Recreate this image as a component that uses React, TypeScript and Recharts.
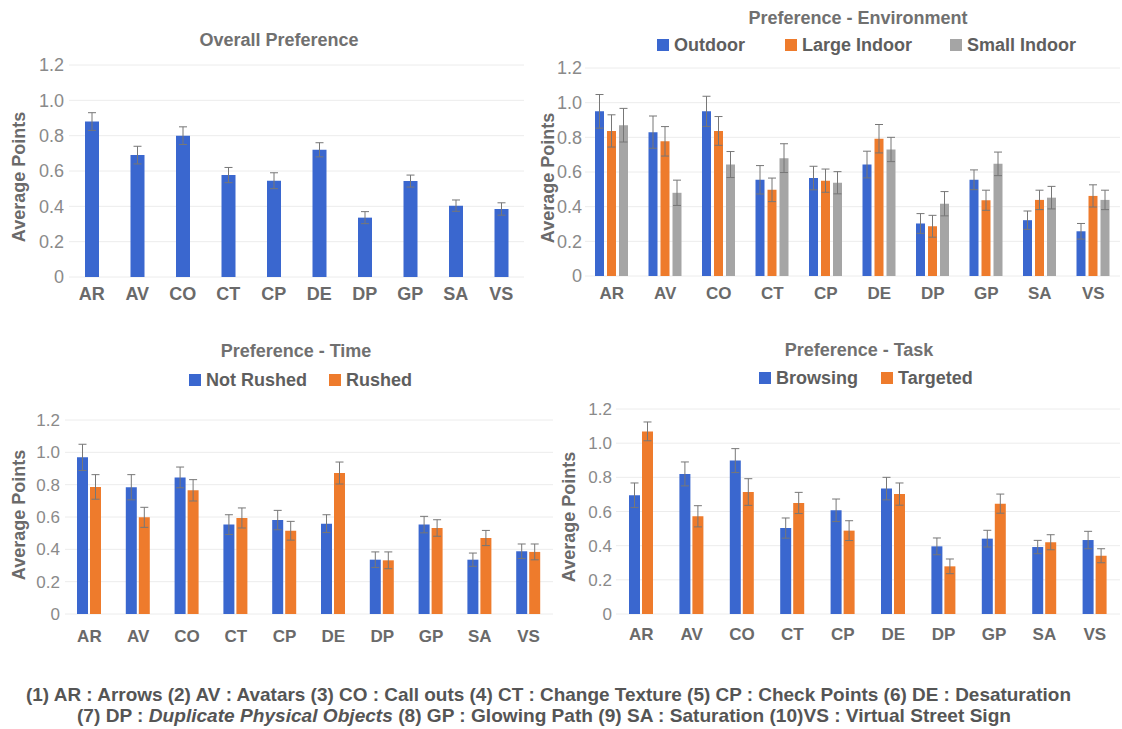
import React from 'react';
import { BarChart, Bar, XAxis, YAxis, CartesianGrid, ErrorBar } from 'recharts';

const categories = ['AR', 'AV', 'CO', 'CT', 'CP', 'DE', 'DP', 'GP', 'SA', 'VS'];
const yTicks = [0, 0.2, 0.4, 0.6, 0.8, 1.0, 1.2];

// Overall preference
const overallValues = [0.88, 0.69, 0.8, 0.577, 0.545, 0.72, 0.336, 0.543, 0.404, 0.385];
const overallErrors = [0.05, 0.05, 0.05, 0.043, 0.045, 0.04, 0.034, 0.034, 0.032, 0.035];

// Preference - Environment
const outdoorValues = [0.95, 0.83, 0.95, 0.555, 0.565, 0.643, 0.303, 0.555, 0.322, 0.258];
const outdoorErrors = [0.097, 0.093, 0.087, 0.082, 0.068, 0.077, 0.057, 0.057, 0.053, 0.045];
const largeIndoorValues = [0.837, 0.777, 0.837, 0.497, 0.55, 0.792, 0.287, 0.437, 0.439, 0.462];
const largeIndoorErrors = [0.093, 0.085, 0.083, 0.068, 0.067, 0.082, 0.063, 0.058, 0.056, 0.064];
const smallIndoorValues = [0.87, 0.48, 0.643, 0.68, 0.538, 0.73, 0.417, 0.647, 0.452, 0.439];
const smallIndoorErrors = [0.097, 0.073, 0.075, 0.083, 0.064, 0.07, 0.07, 0.068, 0.065, 0.056];

// Preference - Time
const notRushedValues = [0.969, 0.784, 0.845, 0.553, 0.581, 0.559, 0.336, 0.553, 0.336, 0.388];
const notRushedErrors = [0.081, 0.078, 0.064, 0.061, 0.06, 0.055, 0.048, 0.051, 0.041, 0.045];
const rushedValues = [0.786, 0.598, 0.765, 0.594, 0.515, 0.872, 0.332, 0.532, 0.47, 0.384];
const rushedErrors = [0.076, 0.062, 0.066, 0.062, 0.058, 0.068, 0.052, 0.051, 0.047, 0.049];

// Preference - Task
const browsingValues = [0.695, 0.82, 0.898, 0.503, 0.607, 0.734, 0.396, 0.441, 0.392, 0.433];
const browsingErrors = [0.072, 0.07, 0.07, 0.059, 0.066, 0.066, 0.049, 0.049, 0.039, 0.051];
const targetedValues = [1.069, 0.572, 0.714, 0.65, 0.488, 0.702, 0.279, 0.646, 0.42, 0.341];
const targetedErrors = [0.055, 0.062, 0.078, 0.062, 0.058, 0.065, 0.043, 0.056, 0.044, 0.041];

const BLUE = '#3a67cf';
const ORANGE = '#ee7b2c';
const GRAY = '#a5a5a5';
const FONT = '"Liberation Sans", Arial, Helvetica, sans-serif';
const NARROW = '"Liberation Sans Narrow", "Liberation Sans", Arial, sans-serif';

type Series = { name: string; values: number[]; errors: number[]; color: string };

function buildRows(series: Series[]) {
  return categories.map((c, i) => {
    const row: Record<string, any> = { cat: c };
    series.forEach((s, k) => {
      row['v' + k] = s.values[i];
      row['e' + k] = s.errors[i];
    });
    return row;
  });
}

const fmt = (v: number) => (v === 0 ? '0' : v.toFixed(1));

type PanelProps = {
  left: number; top: number; width: number; height: number;
  series: Series[];
  margin: { top: number; right: number; bottom: number; left: number };
  yAxisWidth: number; yTickMargin: number; xTickMargin: number;
  xFont: number; yFont: number; barSize: number; barGap: number;
};

function Panel(p: PanelProps) {
  const data = buildRows(p.series);
  return (
    <div style={{ position: 'absolute', left: p.left, top: p.top }}>
      <BarChart width={p.width} height={p.height} data={data} margin={p.margin} barGap={p.barGap}>
        <CartesianGrid vertical={false} stroke="#ececec" />
        <XAxis
          dataKey="cat"
          interval={0}
          axisLine={false}
          tickLine={false}
          tickSize={0}
          tickMargin={p.xTickMargin}
          height={30}
          tick={{ fontSize: p.xFont, fill: '#6a6a6a', fontFamily: FONT, fontWeight: 700 }}
        />
        <YAxis
          domain={[0, 1.2]}
          ticks={yTicks}
          tickFormatter={fmt}
          axisLine={false}
          tickLine={false}
          tickSize={0}
          tickMargin={p.yTickMargin}
          width={p.yAxisWidth}
          tick={{ fontSize: p.yFont, fill: '#8a8a8a', fontFamily: FONT }}
        />
        {p.series.map((s, k) => (
          <Bar key={s.name} dataKey={'v' + k} name={s.name} fill={s.color} barSize={p.barSize} isAnimationActive={false}>
            <ErrorBar dataKey={'e' + k} width={4} strokeWidth={1} stroke="#777" />
          </Bar>
        ))}
      </BarChart>
    </div>
  );
}

function Title({ text, cx, cy }: { text: string; cx: number; cy: number }) {
  return (
    <div style={{ position: 'absolute', left: cx - 250, top: cy - 12, width: 500, height: 24, lineHeight: '24px', textAlign: 'center', fontFamily: FONT, fontWeight: 700, fontSize: 18, color: '#707070' }}>
      {text}
    </div>
  );
}

function YTitle({ cx, cy }: { cx: number; cy: number }) {
  return (
    <div style={{ position: 'absolute', left: cx - 100, top: cy - 12, width: 200, height: 24, lineHeight: '24px', textAlign: 'center', fontFamily: FONT, fontWeight: 700, fontSize: 18, color: '#6a6a6a', transform: 'rotate(-90deg)' }}>
      Average Points
    </div>
  );
}

function LegendRow({ items, lefts, cy }: { items: Series[]; lefts: number[]; cy: number }) {
  return (
    <>
      {items.map((s, i) => (
        <div key={s.name} style={{ position: 'absolute', left: lefts[i], top: cy - 12, height: 24, display: 'flex', alignItems: 'center', fontFamily: FONT, fontWeight: 700, fontSize: 18, color: '#5e5e5e', whiteSpace: 'nowrap' }}>
          <span style={{ display: 'inline-block', width: 12, height: 12, background: s.color, marginRight: 5 }} />
          {s.name}
        </div>
      ))}
    </>
  );
}

const overallSeries: Series[] = [{ name: 'Overall', values: overallValues, errors: overallErrors, color: BLUE }];
const envSeries: Series[] = [
  { name: 'Outdoor', values: outdoorValues, errors: outdoorErrors, color: BLUE },
  { name: 'Large Indoor', values: largeIndoorValues, errors: largeIndoorErrors, color: ORANGE },
  { name: 'Small Indoor', values: smallIndoorValues, errors: smallIndoorErrors, color: GRAY },
];
const timeSeries: Series[] = [
  { name: 'Not Rushed', values: notRushedValues, errors: notRushedErrors, color: BLUE },
  { name: 'Rushed', values: rushedValues, errors: rushedErrors, color: ORANGE },
];
const taskSeries: Series[] = [
  { name: 'Browsing', values: browsingValues, errors: browsingErrors, color: BLUE },
  { name: 'Targeted', values: targetedValues, errors: targetedErrors, color: ORANGE },
];

export default function App() {
  return (
    <div style={{ position: 'absolute', left: 0, top: 0, width: 1122, height: 729, background: '#fff', overflow: 'hidden' }}>
      <Title text="Overall Preference" cx={279} cy={40} />
      <YTitle cx={19} cy={177} />
      <Panel left={0} top={0} width={540} height={320} series={overallSeries}
        margin={{ top: 65, right: 16, bottom: 13, left: 0 }} yAxisWidth={69} yTickMargin={5} xTickMargin={10}
        xFont={18} yFont={18} barSize={14} barGap={3} />

      <Title text="Preference - Environment" cx={858} cy={18} />
      <LegendRow items={envSeries} lefts={[657, 785, 950]} cy={45} />
      <YTitle cx={548} cy={178} />
      <Panel left={540} top={0} width={582} height={320} series={envSeries}
        margin={{ top: 68, right: 2, bottom: 14, left: 0 }} yAxisWidth={45} yTickMargin={3} xTickMargin={11}
        xFont={17} yFont={18} barSize={9} barGap={3} />

      <Title text="Preference - Time" cx={296} cy={351} />
      <LegendRow items={timeSeries} lefts={[189, 329]} cy={380} />
      <YTitle cx={19} cy={515} />
      <Panel left={0} top={335} width={560} height={320} series={timeSeries}
        margin={{ top: 85, right: 7, bottom: 11, left: 0 }} yAxisWidth={65} yTickMargin={5} xTickMargin={16}
        xFont={17} yFont={17} barSize={11} barGap={2} />

      <Title text="Preference - Task" cx={859} cy={350} />
      <LegendRow items={taskSeries} lefts={[759, 881]} cy={378} />
      <YTitle cx={569} cy={517} />
      <Panel left={540} top={335} width={582} height={320} series={taskSeries}
        margin={{ top: 74, right: 2, bottom: 11, left: 0 }} yAxisWidth={76} yTickMargin={4} xTickMargin={14}
        xFont={17} yFont={17} barSize={11} barGap={2} />

      <svg width={1122} height={729} style={{ position: 'absolute', left: 0, top: 0, pointerEvents: 'none' }}>
        <text x={26} y={701} textLength={1045} lengthAdjust="spacingAndGlyphs" fontFamily={NARROW} fontSize={18.5} fontWeight={700} fill="#555">
          (1) AR : Arrows (2) AV : Avatars (3) CO : Call outs (4) CT : Change Texture (5) CP : Check Points (6) DE : Desaturation
        </text>
        <text x={77} y={722} textLength={934} lengthAdjust="spacingAndGlyphs" fontFamily={NARROW} fontSize={18.5} fontWeight={700} fill="#555">
          (7) DP : <tspan fontStyle="italic">Duplicate Physical Objects</tspan> (8) GP : Glowing Path (9) SA : Saturation (10)VS : Virtual Street Sign
        </text>
      </svg>
    </div>
  );
}
